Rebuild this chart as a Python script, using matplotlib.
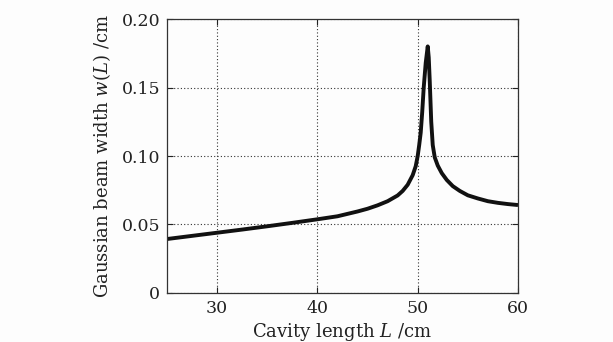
import matplotlib
matplotlib.use("Agg")
import matplotlib.pyplot as plt

# Data
cavity_length = [25, 27.5, 30, 32.5, 35, 37.5, 40, 42, 44, 45, 46, 47, 48, 48.5,
                 49, 49.5, 49.8, 50.0, 50.15, 50.3, 50.45, 50.6, 50.8, 51.0,
                 51.1, 51.2, 51.35, 51.5, 51.7, 52.0, 52.4, 52.9, 53.5, 54.2,
                 55, 56, 57, 58, 59, 60]
beam_width = [0.0394, 0.0417, 0.0440, 0.0463, 0.0487, 0.0512, 0.0538, 0.0560,
              0.0595, 0.0615, 0.0640, 0.0670, 0.0712, 0.0745, 0.0790, 0.0860,
              0.0925, 0.1000, 0.1080, 0.1170, 0.1320, 0.1500, 0.1680, 0.1800,
              0.1720, 0.1550, 0.1250, 0.1080, 0.0990, 0.0930, 0.0875, 0.0825,
              0.0780, 0.0745, 0.0713, 0.0690, 0.0670, 0.0658, 0.0649, 0.0642]
x_ticks = [30, 40, 50, 60]
y_ticks = [0, 0.05, 0.10, 0.15, 0.20]
y_tick_labels = ["0", "0.05", "0.10", "0.15", "0.20"]

plt.rcParams['font.family'] = ['DejaVu Serif']
plt.rcParams['mathtext.fontset'] = 'dejavuserif'

fig = plt.figure(figsize=(6.13, 3.42), dpi=100, facecolor='#fdfdfd')
ax = fig.add_axes([0.2724, 0.1433, 0.5726, 0.8011])
ax.set_facecolor('#fdfdfd')

ax.plot(cavity_length, beam_width, color='#111111', lw=2.8,
        solid_joinstyle='round', solid_capstyle='butt')

ax.set_xlim(25, 60)
ax.set_ylim(0, 0.20)
ax.set_xticks(x_ticks)
ax.set_yticks(y_ticks)
ax.set_yticklabels(y_tick_labels)
ax.grid(True, linestyle=(0, (1, 2)), color='#333333', lw=0.8)
ax.tick_params(direction='in', top=True, right=True, length=4, width=0.8,
               labelsize=12.5, colors='#222222', pad=5)
for s in ax.spines.values():
    s.set_linewidth(0.9)
    s.set_color('#333333')

ax.set_xlabel(r"Cavity length $L$ /cm", fontsize=13, labelpad=3, color='#222222')
ax.set_ylabel(r"Gaussian beam width $w(L)$ /cm", fontsize=13, labelpad=6, color='#222222')

fig.savefig("out.png", dpi=100, facecolor=fig.get_facecolor())
